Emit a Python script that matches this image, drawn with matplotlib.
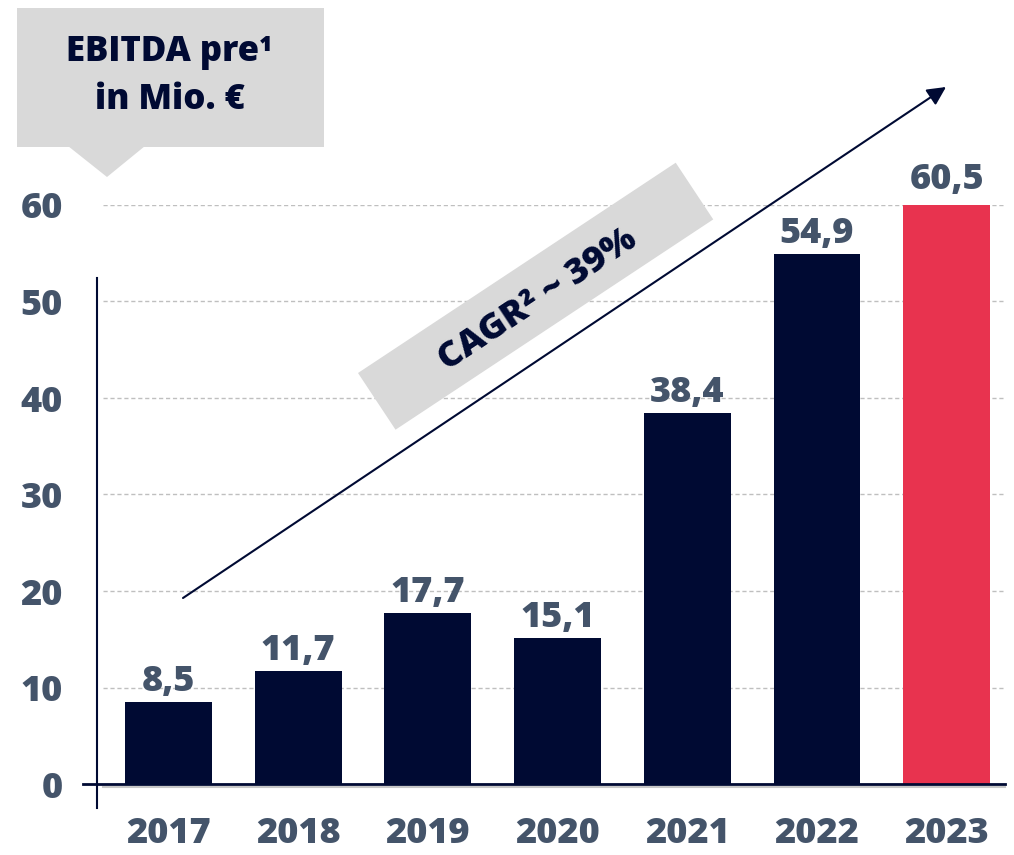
import matplotlib as mpl
mpl.use('Agg')
import matplotlib.pyplot as plt
from matplotlib.patches import Rectangle, Polygon
from matplotlib.lines import Line2D
import matplotlib.transforms as mtransforms

plt.rcParams['font.family'] = ['Open Sans', 'DejaVu Sans']
plt.rcParams['font.weight'] = 800

years = ['2017', '2018', '2019', '2020', '2021', '2022', '2023']
ebitda = [8.5, 11.7, 17.7, 15.1, 38.4, 54.9, 60.5]
labels = ['8,5', '11,7', '17,7', '15,1', '38,4', '54,9', '60,5']
yticks = [0, 10, 20, 30, 40, 50, 60]

navy = '#000A33'
red = '#E8334F'
slate = '#44546A'
grey = '#D9D9D9'

W, H = 1014, 855
fig = plt.figure(figsize=(W / 100, H / 100), dpi=100)

def fx(px):
    return px / W

def fy(py):
    return 1 - py / H

ax = fig.add_axes([fx(103), fy(784), fx(1005) - fx(103), fy(205) - fy(784)])
colors = [navy] * (len(years) - 1) + [red]
xs = list(range(len(years)))
ax.bar(xs, ebitda, width=0.67, color=colors, zorder=3)
ax.set_xlim(-0.505, 6.45)
ax.set_ylim(0, 60)

for s in ax.spines.values():
    s.set_visible(False)
ax.set_yticks(yticks)
ax.set_xticks(xs)
ax.set_xticklabels(years)
ax.tick_params(length=0, labelsize=26, colors=slate)
ax.tick_params(axis='y', pad=29)
ax.tick_params(axis='x', pad=23)
for lab in ax.get_xticklabels() + ax.get_yticklabels():
    lab.set_fontweight(800)
for yt in yticks[1:]:
    ax.axhline(yt, color='#BFBFBF', lw=1, ls=(0, (3, 2)), zorder=1)

for x, v, t in zip(xs, ebitda, labels):
    ax.annotate(t, (x, v), xytext=(0, 8), textcoords='offset points',
                ha='center', va='baseline', fontsize=26, color=slate,
                fontweight=800, annotation_clip=False)

# axis lines
fig.add_artist(Line2D([fx(83), fx(1005)], [fy(784), fy(784)], color=navy, lw=2, zorder=5))
fig.add_artist(Line2D([fx(103), fx(1005)], [fy(787), fy(787)], color='#C8C8C8', lw=1.5, zorder=4))
fig.add_artist(Line2D([fx(97), fx(97)], [fy(278), fy(808)], color=navy, lw=1.5, zorder=5))

# callout box top-left
fig.add_artist(Rectangle((fx(17), fy(147)), fx(324) - fx(17), fy(8) - fy(147),
                         facecolor=grey, edgecolor='none', zorder=2))
fig.add_artist(Polygon([(fx(68), fy(146)), (fx(145), fy(146)), (fx(107), fy(177))],
                       closed=True, facecolor=grey, edgecolor='none', zorder=2))
fig.text(fx(170), fy(52), 'EBITDA pre¹', ha='center', va='center', fontsize=25,
         color=navy, fontweight=800)
fig.text(fx(170), fy(100), 'in Mio. €', ha='center', va='center', fontsize=25,
         color=navy, fontweight=800)

# CAGR arrow
ax.annotate('', xy=(fx(946), fy(87)), xycoords='figure fraction',
            xytext=(fx(183), fy(598)), textcoords='figure fraction',
            arrowprops=dict(arrowstyle='-|>', color=navy, lw=1.5,
                            mutation_scale=28, shrinkA=0, shrinkB=0),
            annotation_clip=False)

# rotated CAGR box
angle = 33.5
box_tr = (mtransforms.Affine2D().rotate_deg_around(358, 373, -angle)
          + mtransforms.Affine2D().scale(1, -1).translate(0, H)
          + mtransforms.Affine2D().scale(1 / W, 1 / H) + fig.transFigure)
fig.add_artist(Rectangle((358, 373), 381, 68, facecolor=grey,
                         edgecolor='none', transform=box_tr, zorder=2))
fig.text(fx(538), fy(300), 'CAGR² ~ 39%', ha='center', va='center', rotation=angle,
         rotation_mode='anchor', fontsize=26, color=navy, fontweight=800, zorder=3)

fig.savefig('out.png', dpi=100)
